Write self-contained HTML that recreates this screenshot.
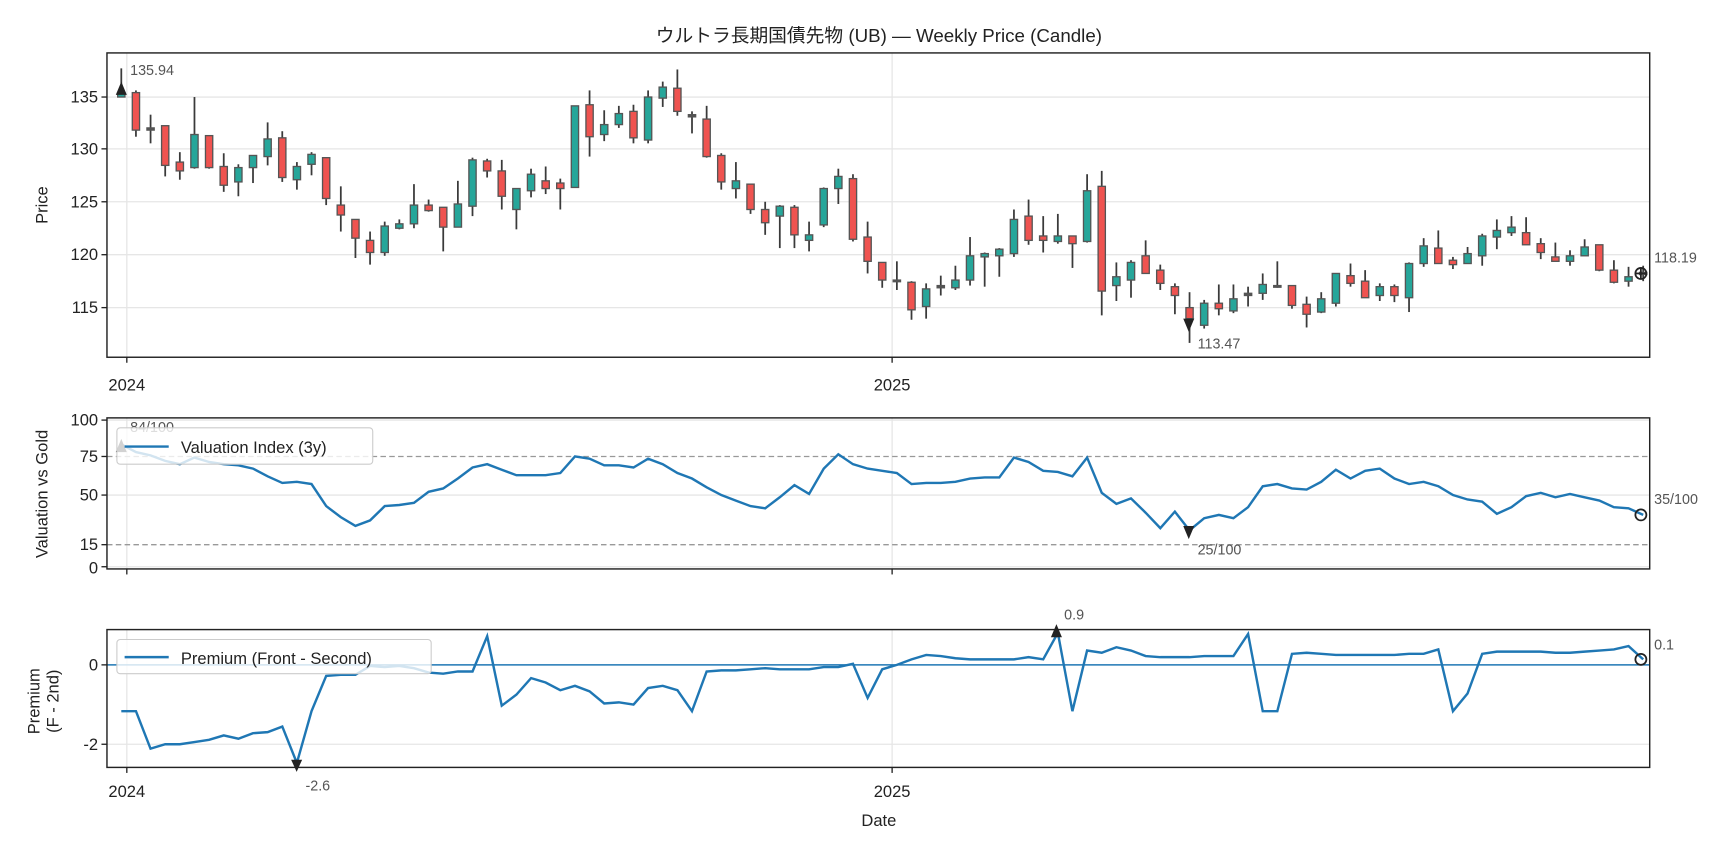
<!DOCTYPE html>
<html><head><meta charset="utf-8"><style>
html,body{margin:0;padding:0;background:#fff;}
svg{display:block;}
text{font-family:"Liberation Sans","Noto Sans CJK JP",sans-serif;fill:#222;}
</style></head><body>
<svg id="s" width="1728" height="849" viewBox="0 0 1567 770" preserveAspectRatio="none" xmlns="http://www.w3.org/2000/svg">
<rect width="1567" height="770" fill="#fff"/>
<text x="797" y="38" font-size="17" text-anchor="middle">ウルトラ長期国債先物 (UB) — Weekly Price (Candle)</text>
<g id="grid" stroke="#e6e6e6" stroke-width="1.2">
<line x1="97" x2="1496" y1="88" y2="88"/><line x1="97" x2="1496" y1="135" y2="135"/><line x1="97" x2="1496" y1="183" y2="183"/><line x1="97" x2="1496" y1="231" y2="231"/><line x1="97" x2="1496" y1="279" y2="279"/>
<line x1="115" x2="115" y1="48" y2="324"/><line x1="809" x2="809" y1="48" y2="324"/>
<line x1="97" x2="1496" y1="381" y2="381"/><line x1="97" x2="1496" y1="449" y2="449"/><line x1="97" x2="1496" y1="514" y2="514"/>
<line x1="115" x2="115" y1="379" y2="516"/><line x1="809" x2="809" y1="379" y2="516"/>
<line x1="97" x2="1496" y1="675" y2="675"/>
<line x1="115" x2="115" y1="571" y2="696"/><line x1="809" x2="809" y1="571" y2="696"/>
</g>
<g stroke="#999" stroke-width="1.2" stroke-dasharray="5,3"><line x1="97" x2="1496" y1="414" y2="414"/><line x1="97" x2="1496" y1="494" y2="494"/></g>
<line x1="97" x2="1496" y1="603" y2="603" stroke="#1f77b4" stroke-width="1.3"/>
<g id="candles"></g>
<polyline id="val" fill="none" stroke="#1f77b4" stroke-width="2.2"/>
<polyline id="prem" fill="none" stroke="#1f77b4" stroke-width="2.2"/>
<!-- axes frames -->
<g fill="none" stroke="#222" stroke-width="1.3">
<rect x="97" y="48" width="1399" height="276"/>
<rect x="97" y="379" width="1399" height="137"/>
<rect x="97" y="571" width="1399" height="125"/>
</g>
<g stroke="#222" stroke-width="1.2">
<line x1="92" x2="97" y1="88" y2="88"/><line x1="92" x2="97" y1="135" y2="135"/><line x1="92" x2="97" y1="183" y2="183"/><line x1="92" x2="97" y1="231" y2="231"/><line x1="92" x2="97" y1="279" y2="279"/>
<line x1="115" x2="115" y1="324" y2="329"/><line x1="809" x2="809" y1="324" y2="329"/>
<line x1="92" x2="97" y1="381" y2="381"/><line x1="92" x2="97" y1="414" y2="414"/><line x1="92" x2="97" y1="449" y2="449"/><line x1="92" x2="97" y1="494" y2="494"/><line x1="92" x2="97" y1="514" y2="514"/>
<line x1="115" x2="115" y1="516" y2="521"/><line x1="809" x2="809" y1="516" y2="521"/>
<line x1="92" x2="97" y1="603" y2="603"/><line x1="92" x2="97" y1="675" y2="675"/>
<line x1="115" x2="115" y1="696" y2="701"/><line x1="809" x2="809" y1="696" y2="701"/>
</g>
<g font-size="15" text-anchor="end">
<text x="89" y="93">135</text><text x="89" y="140">130</text><text x="89" y="188">125</text><text x="89" y="236">120</text><text x="89" y="284">115</text>
<text x="89" y="386">100</text><text x="89" y="419">75</text><text x="89" y="454">50</text><text x="89" y="499">15</text><text x="89" y="520">0</text>
<text x="89" y="608">0</text><text x="89" y="680">-2</text>
</g>
<g font-size="15" text-anchor="middle">
<text x="115" y="354">2024</text><text x="809" y="354">2025</text>
<text x="115" y="723">2024</text><text x="809" y="723">2025</text>
<text x="797" y="749">Date</text>
</g>
<g font-size="15" text-anchor="middle">
<text transform="translate(43,186) rotate(-90)">Price</text>
<text transform="translate(43,448) rotate(-90)">Valuation vs Gold</text>
<text transform="translate(36,636) rotate(-90)">Premium</text>
<text transform="translate(53,636) rotate(-90)">(F - 2nd)</text>
</g>
<!-- annotations -->
<g font-size="13" fill="#555">
<text x="118" y="68" style="fill:#555">135.94</text>
<text x="1086" y="316" style="fill:#555">113.47</text>
<text x="1500" y="238" style="fill:#555">118.19</text>
<text x="118" y="392" style="fill:#555">84/100</text>
<text x="1086" y="503" style="fill:#555">25/100</text>
<text x="1500" y="457" style="fill:#555">35/100</text>
<text x="277" y="717" style="fill:#555">-2.6</text>
<text x="965" y="562" style="fill:#555">0.9</text>
<text x="1500" y="589" style="fill:#555">0.1</text>
</g>
<g fill="#222">
<polygon points="105,86 115,86 110,74"/>
<polygon points="1073,289 1083,289 1078,301"/>
<polygon points="105,410 115,410 110,398"/>
<polygon points="1073,477 1083,477 1078,489"/>
<polygon points="264,689 274,689 269,700"/>
<polygon points="953,578 963,578 958,566"/>
</g>
<g fill="none" stroke="#222" stroke-width="1.6">
<circle cx="1488" cy="248" r="5"/><line x1="1483" x2="1493" y1="248" y2="248"/><line x1="1488" x2="1488" y1="243" y2="253"/>
<circle cx="1488" cy="467" r="5"/>
<circle cx="1488" cy="598" r="5"/>
</g>
<!-- legends -->
<rect x="106" y="388" width="232" height="33" rx="3" fill="#fff" fill-opacity="0.8" stroke="#ccc"/>
<line x1="113" x2="153" y1="405" y2="405" stroke="#1f77b4" stroke-width="2.2"/>
<text x="164" y="411" font-size="15">Valuation Index (3y)</text>
<rect x="106" y="580" width="285" height="31" rx="3" fill="#fff" fill-opacity="0.8" stroke="#ccc"/>
<line x1="113" x2="153" y1="596" y2="596" stroke="#1f77b4" stroke-width="2.2"/>
<text x="164" y="602" font-size="15">Premium (Front - Second)</text>
</svg>
<script>
var C=[
[84,88,62,88,'g'],[84,118,82,124,'r'],[116,118,104,130,'d'],[114,150,114,160,'r'],[147,155,138,163,'r'],[122,152,88,153,'g'],[123,152,123,153,'r'],[151,168,139,174,'r'],[152,165,149,178,'g'],[141,152,141,166,'g'],
[126,142,111,150,'g'],[125,161,119,165,'r'],[151,163,147,172,'g'],[140,149,138,159,'g'],[143,180,143,186,'r'],[186,195,169,210,'r'],[199,216,199,234,'r'],[218,229,210,240,'r'],[205,229,201,232,'g'],[203,207,199,208,'g'],
[186,203,167,207,'g'],[186,191,181,192,'r'],[188,206,188,228,'r'],[185,206,164,206,'g'],[145,187,143,196,'g'],[146,155,144,161,'r'],[155,178,145,190,'r'],[171,190,171,208,'g'],[158,173,153,179,'g'],[164,171,151,176,'r'],
[166,171,162,190,'r'],[96,170,96,170,'g'],[95,124,82,142,'r'],[113,122,100,128,'g'],[103,113,96,116,'g'],[101,125,95,130,'r'],[88,127,82,130,'g'],[79,89,74,97,'g'],[80,101,63,105,'r'],[104,106,101,121,'d'],
[108,142,96,143,'r'],[141,165,139,172,'r'],[164,171,147,180,'g'],[167,190,167,194,'r'],[190,202,183,213,'r'],[187,196,186,225,'g'],[188,213,186,225,'r'],[213,218,201,228,'g'],[171,204,170,206,'g'],[160,171,153,185,'g'],
[162,217,158,219,'r'],[215,237,201,248,'r'],[238,254,238,261,'r'],[254,255,237,263,'d'],[256,281,255,290,'r'],[262,278,257,289,'g'],[259,261,250,268,'d'],[254,261,241,263,'g'],[232,254,215,259,'g'],[230,233,229,260,'g'],
[226,232,225,251,'g'],[199,230,190,233,'g'],[196,218,181,222,'r'],[214,218,196,229,'r'],[214,219,194,221,'g'],[214,221,214,243,'r'],[173,219,158,220,'g'],[169,264,155,286,'r'],[251,259,238,273,'g'],[238,254,236,270,'g'],
[232,248,218,248,'r'],[245,257,240,263,'r'],[260,268,257,285,'r'],[279,289,265,311,'r'],[275,295,272,298,'g'],[275,280,258,286,'r'],[271,282,258,284,'g'],[266,268,260,278,'d'],[258,266,248,272,'g'],[259,260,237,261,'d'],
[259,277,259,280,'r'],[276,285,269,297,'r'],[271,283,265,284,'g'],[248,275,248,278,'g'],[250,257,239,260,'r'],[255,270,245,270,'r'],[260,268,257,273,'g'],[260,268,258,274,'r'],[239,270,238,283,'g'],[223,239,216,242,'g'],
[225,239,209,239,'r'],[236,240,233,244,'r'],[230,239,224,239,'g'],[214,232,212,241,'g'],[209,215,199,226,'g'],[206,211,196,214,'g'],[211,222,197,222,'r'],[221,229,216,235,'r'],[233,237,220,237,'r'],[232,237,227,241,'g'],
[224,232,217,232,'g'],[222,245,222,246,'r'],[245,256,236,257,'r'],[251,255,242,260,'g'],[247,249,241,255,'g']];
var g='';
C.forEach(function(c,i){var x=110+13.27*i;
g+='<line x1="'+x+'" x2="'+x+'" y1="'+c[2]+'" y2="'+c[3]+'" stroke="#3a3a3a" stroke-width="1.6"/>';
var col=c[4]=='g'?'#26a69a':(c[4]=='r'?'#ef5350':'#555');var h=Math.max(c[1]-c[0],1.5);
g+='<rect x="'+(x-3.3)+'" y="'+c[0]+'" width="6.6" height="'+h+'" fill="'+col+'" stroke="#555" stroke-width="1.2"/>';});
document.getElementById('candles').innerHTML=g;
var V=[403,410,413,418,421,415,419,421,422,425,432,438,437,439,459,469,477,472,459,458,456,446,443,434,424,421,426,431,431,431,429,414,416,422,422,424,416,421,429,434,442,449,454,459,461,451,440,448,425,412,421,425,427,429,439,438,438,437,434,433,433,415,419,427,428,432,415,447,457,452,465,479,464,481,470,467,470,460,441,439,443,444,437,426,434,427,425,434,439,437,441,449,453,455,466,460,450,447,451,448,451,454,460,461,467];
var P=[645,645,679,675,675,673,671,667,670,665,664,659,692,645,613,612,612,604,605,604,606,610,611,609,609,577,640,630,615,619,626,622,627,638,637,639,624,622,626,645,609,608,608,607,606,607,607,607,605,605,602,633,607,603,598,594,595,597,598,598,598,598,596,598,574,645,590,592,587,590,595,596,596,596,595,595,595,575,645,645,593,592,593,594,594,594,594,594,593,593,589,645,629,593,591,591,591,591,592,592,591,590,589,586,598];
function pts(a){return a.map(function(y,i){return (110+13.27*i).toFixed(1)+','+y}).join(' ');}
document.getElementById('val').setAttribute('points',pts(V));
document.getElementById('prem').setAttribute('points',pts(P));
</script>
</body></html>
